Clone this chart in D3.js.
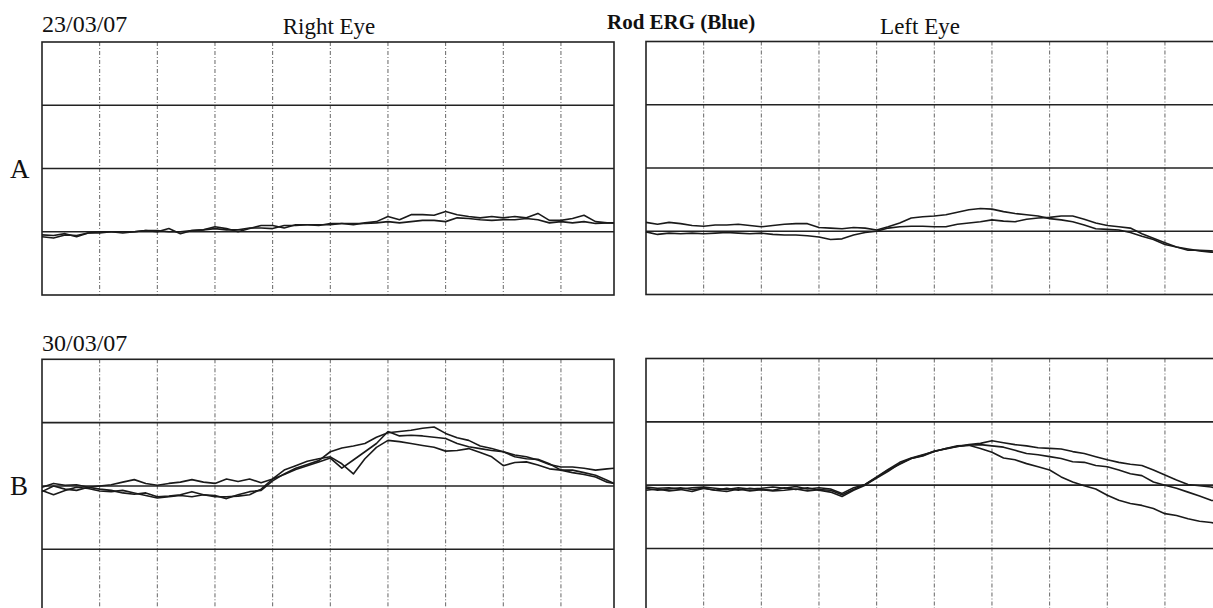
<!DOCTYPE html>
<html>
<head>
<meta charset="utf-8">
<script src="https://cdn.jsdelivr.net/npm/d3@7"></script>
<style>
  html, body { margin: 0; padding: 0; background: #fff; overflow: hidden; }
  svg { display: block; }
  text { font-family: "Liberation Serif", "Times New Roman", serif; fill: #111; }
</style>
</head>
<body>
<svg id="chart" width="1213" height="608"></svg>
<script>
// ---- DATA ----
const timeMs = [0,5,10,15,20,25,30,35,40,45,50,55,60,65,70,75,80,85,90,95,100,105,110,115,120,125,130,135,140,145,150,155,160,165,170,175,180,185,190,195,200,205,210,215,220,225,230,235,240,245,248];
const timeTicks = [25,50,75,100,125,150,175,200,225];

// A – 23/03/07 (amplitude, µV)
const rightEyeA1 = [-5,-6,-3,-8,-2,0,0,-2,0,2,0,5,-3,2,3,8,5,0,5,10,10,6,11,11,10,13,13,11,14,16,24,19,27,27,26,32,27,24,22,24,22,24,22,29,18,18,21,26,16,14,14];
const rightEyeA2 = [-8,-10,-5,-6,-2,-2,0,0,0,2,2,0,0,2,3,5,3,3,6,6,5,10,10,11,11,11,13,13,13,14,16,14,16,18,18,16,22,21,19,18,19,19,21,19,14,16,14,16,13,14,14];
const leftEyeA1 = [14,11,14,12,9,8,10,10,11,9,7,9,11,12,12,6,5,4,6,5,2,7,13,21,23,24,26,30,34,36,35,31,28,26,24,20,18,15,10,4,3,2,-2,-8,-13,-21,-25,-28,-31,-33,-34];
const leftEyeA2 = [-1,-5,-3,-4,-3,-4,-3,-2,-3,-4,-3,-5,-6,-6,-7,-9,-13,-12,-6,-2,0,5,7,8,8,7,7,11,13,15,18,16,15,19,21,22,24,24,19,13,9,7,5,-4,-11,-18,-25,-30,-30,-31,-32];

// B – 30/03/07 (amplitude, µV)
const rightEyeB1 = [-7,-14,-7,-2,-4,-8,-9,-7,-11,-15,-19,-17,-15,-17,-14,-15,-20,-14,-9,-7,8,19,28,34,40,54,60,63,67,77,84,86,88,91,93,83,76,72,63,59,54,49,46,41,34,30,30,28,25,27,28];
const rightEyeB2 = [-9,0,-5,-7,-2,-5,-7,-11,-13,-11,-17,-16,-14,-9,-14,-17,-17,-16,-14,-5,11,18,26,32,38,44,28,41,54,67,86,79,80,79,77,75,67,62,59,56,54,46,43,42,35,25,21,18,14,6,4];
const rightEyeB3 = [-2,4,1,2,-2,0,2,6,10,4,1,4,6,10,6,4,11,7,11,5,11,25,32,39,43,46,35,19,43,61,72,70,67,64,61,55,56,59,53,46,32,37,38,33,27,25,25,21,17,9,4];
const leftEyeB1 = [-3,-5,-4,-6,-4,-3,-5,-7,-4,-6,-5,-3,-5,-2,-6,-4,-6,-13,-4,1,12,24,33,42,46,53,58,61,64,66,70,67,64,62,59,58,57,53,50,45,40,36,33,31,24,16,8,1,-1,-3,-5];
const leftEyeB2 = [-5,-8,-6,-4,-7,-5,-8,-5,-8,-5,-7,-8,-4,-7,-4,-8,-11,-18,-8,0,11,22,34,42,47,54,57,61,63,64,62,60,55,50,48,45,42,37,36,31,29,24,18,15,5,0,-5,-11,-17,-24,-25];
const leftEyeB3 = [-8,-6,-9,-7,-10,-5,-8,-10,-6,-9,-7,-9,-8,-6,-9,-7,-8,-15,-7,1,13,25,36,43,48,53,58,62,63,58,52,43,40,34,29,24,13,5,-1,-6,-16,-24,-29,-32,-37,-45,-48,-53,-57,-59,-61];

const ampTicksA = [0,100,200];
const ampTicksB = [-100,0,100];

// ---- LAYOUT ----
const svg = d3.select("#chart");
const panels = [
  { x0: 42,  y0: 42,    w: 572, h: 253,   yDom: [-100, 300], ticks: ampTicksA, traces: [rightEyeA1, rightEyeA2] },
  { x0: 646, y0: 41.5,  w: 572, h: 253,   yDom: [-100, 300], ticks: ampTicksA, traces: [leftEyeA1, leftEyeA2] },
  { x0: 42,  y0: 359.3, w: 572, h: 253.3, yDom: [-200, 200], ticks: ampTicksB, traces: [rightEyeB1, rightEyeB2, rightEyeB3] },
  { x0: 646, y0: 358.5, w: 572, h: 253.3, yDom: [-200, 200], ticks: ampTicksB, traces: [leftEyeB1, leftEyeB2, leftEyeB3] }
];

panels.forEach(p => {
  const x = d3.scaleLinear().domain([0, 248]).range([p.x0, p.x0 + p.w]);
  const y = d3.scaleLinear().domain(p.yDom).range([p.y0 + p.h, p.y0]);
  const g = svg.append("g");

  // vertical dashed gridlines
  g.selectAll("line.v").data(timeTicks).join("line")
    .attr("x1", d => x(d)).attr("x2", d => x(d))
    .attr("y1", y(p.yDom[1])).attr("y2", y(p.yDom[0]))
    .attr("stroke", "#666").attr("stroke-width", 1)
    .attr("stroke-dasharray", "4,2,1,2");

  // horizontal solid gridlines
  g.selectAll("line.h").data(p.ticks).join("line")
    .attr("x1", x(0)).attr("x2", x(248))
    .attr("y1", d => y(d)).attr("y2", d => y(d))
    .attr("stroke", "#222").attr("stroke-width", 1.6);

  // border
  g.append("rect")
    .attr("x", x(0)).attr("y", y(p.yDom[1]))
    .attr("width", x(248) - x(0)).attr("height", y(p.yDom[0]) - y(p.yDom[1]))
    .attr("fill", "none").attr("stroke", "#222").attr("stroke-width", 1.6);

  // traces
  const line = d3.line().x((d, i) => x(timeMs[i])).y(d => y(d));
  g.selectAll("path.trace").data(p.traces).join("path")
    .attr("d", d => line(d))
    .attr("fill", "none").attr("stroke", "#1a1a1a").attr("stroke-width", 1.6)
    .attr("stroke-linejoin", "round");
});

// ---- TEXT ----
const labels = [
  { t: "23/03/07", x: 42, y: 32, size: 24, anchor: "start", weight: "normal" },
  { t: "Right Eye", x: 329, y: 34, size: 23, anchor: "middle", weight: "normal" },
  { t: "Rod ERG (Blue)", x: 607, y: 29, size: 21, anchor: "start", weight: "bold" },
  { t: "Left Eye", x: 920, y: 34, size: 23, anchor: "middle", weight: "normal" },
  { t: "A", x: 10, y: 178, size: 27, anchor: "start", weight: "normal" },
  { t: "30/03/07", x: 42, y: 351, size: 24, anchor: "start", weight: "normal" },
  { t: "B", x: 10, y: 495, size: 27, anchor: "start", weight: "normal" }
];
svg.selectAll("text.lbl").data(labels).join("text")
  .attr("class", "lbl")
  .attr("x", d => d.x).attr("y", d => d.y)
  .attr("text-anchor", d => d.anchor)
  .attr("font-size", d => d.size)
  .attr("font-weight", d => d.weight)
  .text(d => d.t);
</script>
</body>
</html>
